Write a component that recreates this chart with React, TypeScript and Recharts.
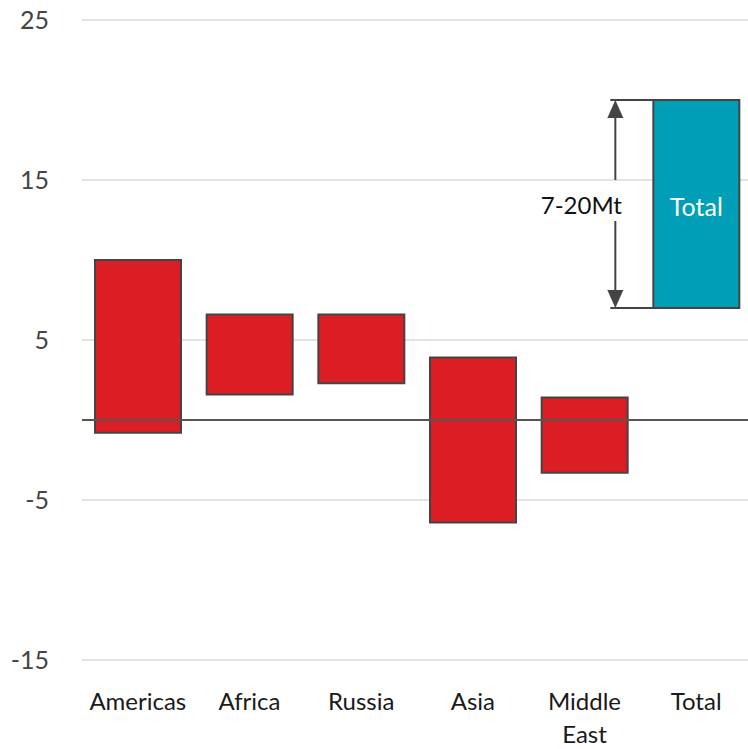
import React from 'react';
import { BarChart, Bar, XAxis, YAxis, CartesianGrid, ReferenceLine, Cell } from 'recharts';

const regions = ['Americas', 'Africa', 'Russia', 'Asia', 'Middle East', 'Total'];
const lows = [-0.8, 1.6, 2.3, -6.4, -3.3, 7];
const highs = [10, 6.6, 6.6, 3.9, 1.4, 20];
const yTicks = [-15, -5, 5, 15, 25];
const rangeLabel = '7-20Mt';

const RED = '#DC1E24';
const TEAL = '#009FB7';
const EDGE = '#444444';
const FONT = 'Lato, "Open Sans", sans-serif';

const data = regions.map((name, i) => ({ name, range: [lows[i], highs[i]] }));

const RegionTick = (props: any) => {
  const { x, y, payload } = props;
  const lines = String(payload.value).split(' ');
  return (
    <text x={x} y={y + 50} textAnchor="middle" fill="#1a1a1a" fontSize={24} fontFamily={FONT}>
      {lines.map((ln, i) => (
        <tspan key={ln} x={x} dy={i === 0 ? 0 : 33}>
          {ln}
        </tspan>
      ))}
    </text>
  );
};

// draws the "Total" label inside the bar plus the range arrow on its left
const TotalLabel = (props: any) => {
  const { x, y, width, height, index } = props;
  if (index !== regions.length - 1) return null;
  const ax = x - 38;
  const mid = y + height / 2;
  return (
    <g>
      <text x={x + width / 2} y={mid + 2} textAnchor="middle" dominantBaseline="central" fill="#fff" fontSize={25} fontFamily={FONT}>
        Total
      </text>
      <line x1={x - 43} x2={x} y1={y} y2={y} stroke={EDGE} strokeWidth={2} />
      <line x1={x - 43} x2={x} y1={y + height} y2={y + height} stroke={EDGE} strokeWidth={2} />
      <polygon points={`${ax},${y} ${ax - 8},${y + 18} ${ax + 8},${y + 18}`} fill={EDGE} />
      <polygon points={`${ax},${y + height} ${ax - 8},${y + height - 18} ${ax + 8},${y + height - 18}`} fill={EDGE} />
      <line x1={ax} x2={ax} y1={y + 18} y2={mid - 24} stroke={EDGE} strokeWidth={2} />
      <line x1={ax} x2={ax} y1={mid + 17} y2={y + height - 18} stroke={EDGE} strokeWidth={2} />
      <text x={ax - 34} y={mid} textAnchor="middle" dominantBaseline="central" fill="#111" fontSize={24} fontFamily={FONT}>
        {rangeLabel}
      </text>
    </g>
  );
};

export default function App() {
  return (
    <div style={{ position: 'absolute', left: 0, top: 0, width: 748, height: 749, overflow: 'hidden', background: '#fff' }}>
      <BarChart width={760} height={749} data={data} margin={{ top: 20, right: 8, bottom: 0, left: 0 }}>
        <CartesianGrid vertical={false} stroke="#e3e3e3" strokeWidth={2} />
        <XAxis
          dataKey="name"
          axisLine={false}
          tickLine={false}
          tickSize={0}
          tickMargin={0}
          height={89}
          interval={0}
          tick={<RegionTick />}
        />
        <YAxis
          domain={[-15, 25]}
          ticks={yTicks}
          width={82}
          axisLine={false}
          tickLine={false}
          tickSize={0}
          tickMargin={33}
          tick={{ fill: '#444', fontSize: 25, fontFamily: FONT }}
        />
        <Bar dataKey="range" barSize={86} stroke={EDGE} strokeWidth={2} isAnimationActive={false} label={<TotalLabel />}>
          {data.map((d, i) => (
            <Cell key={d.name} fill={i === regions.length - 1 ? TEAL : RED} />
          ))}
        </Bar>
        <ReferenceLine y={0} stroke="#555" strokeWidth={2} />
      </BarChart>
    </div>
  );
}
